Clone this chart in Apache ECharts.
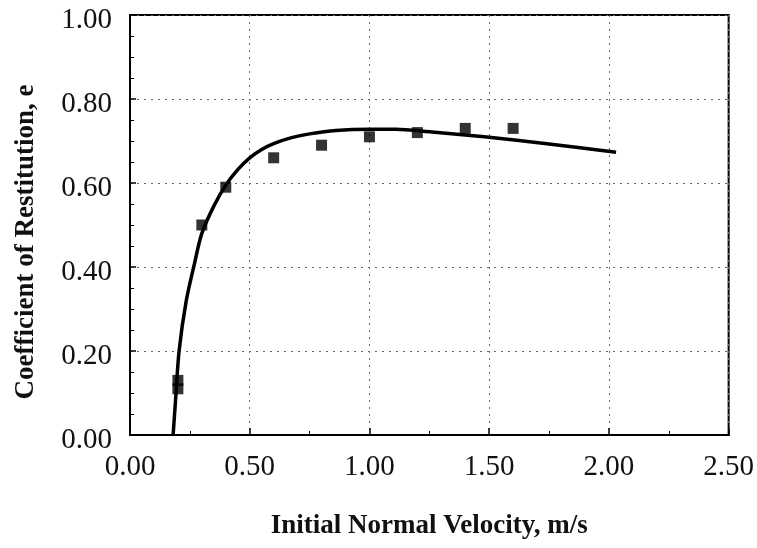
<!DOCTYPE html>
<html>
<head>
<meta charset="utf-8">
<script src="https://cdn.jsdelivr.net/npm/echarts@6/dist/echarts.min.js"></script>
<style>html,body{margin:0;padding:0;background:#fff}#c{width:757px;height:548px}</style>
</head>
<body>
<div id="c"></div>
<script>
// Measured points (initial normal velocity, m/s ; coefficient of restitution)
const pointX = [0.20, 0.20, 0.30, 0.40, 0.60, 0.80, 1.00, 1.20, 1.40, 1.60];
const pointE = [0.13, 0.11, 0.50, 0.59, 0.66, 0.69, 0.71, 0.72, 0.73, 0.73];
// Fitted curve
const curveX = [0.18, 0.19, 0.205, 0.235, 0.27, 0.30, 0.35, 0.40, 0.45, 0.50, 0.55, 0.60, 0.675, 0.75, 0.86, 1.00, 1.11, 1.25, 1.48, 1.75, 2.03];
const curveE = [0.00, 0.08, 0.20, 0.32, 0.41, 0.48, 0.545, 0.595, 0.632, 0.660, 0.680, 0.694, 0.708, 0.717, 0.725, 0.728, 0.728, 0.722, 0.71, 0.693, 0.673];
// Axis ticks
const xTicks = [0.00, 0.50, 1.00, 1.50, 2.00, 2.50];
const yTicks = [0.00, 0.20, 0.40, 0.60, 0.80, 1.00];
const xTitle = 'Initial Normal Velocity, m/s';
const yTitle = 'Coefficient of Restitution, e';

const font = '"Liberation Serif","Times New Roman",serif';
const chart = echarts.init(document.getElementById('c'));
chart.setOption({
  animation: false,
  backgroundColor: '#fff',
  grid: { left: 130, right: 27, top: 15, bottom: 113, show: true, borderColor: '#000', borderWidth: 2, backgroundColor: 'transparent' },
  graphic: [{
    type: 'text', x: 26, y: 242, rotation: Math.PI / 2,
    style: { text: yTitle, fontFamily: font, fontWeight: 'bold', fontSize: 27, fill: '#111', align: 'center', verticalAlign: 'middle' }
  }],
  xAxis: {
    type: 'value', min: xTicks[0], max: xTicks[xTicks.length - 1], interval: 0.5,
    name: xTitle, nameLocation: 'middle', nameGap: 78,
    nameTextStyle: { fontFamily: font, fontWeight: 'bold', fontSize: 27, color: '#111' },
    axisLine: { show: true, lineStyle: { color: '#000', width: 2 } },
    axisTick: { show: true, inside: true, length: 7, lineStyle: { color: '#000', width: 1.5 } },
    minorTick: { show: true, splitNumber: 2, length: 4, lineStyle: { color: '#000' } },
    axisLabel: { fontFamily: font, fontSize: 29, color: '#111', margin: 18, formatter: v => v.toFixed(2) },
    splitLine: { show: true, lineStyle: { color: '#666', width: 1, type: [2, 5] } }
  },
  yAxis: {
    type: 'value', min: yTicks[0], max: yTicks[yTicks.length - 1], interval: 0.2,
    axisLine: { show: true, lineStyle: { color: '#000', width: 2 } },
    axisTick: { show: true, inside: true, length: 6, lineStyle: { color: '#000', width: 1.5 } },
    minorTick: { show: true, splitNumber: 4, length: 4, lineStyle: { color: '#000' } },
    axisLabel: {
      margin: 18, formatter: v => '{t|' + v.toFixed(2) + '}',
      rich: { t: { fontFamily: font, fontSize: 29, color: '#111', padding: [10, 0, 0, 0] } }
    },
    splitLine: { show: true, lineStyle: { color: '#666', width: 1, type: [2, 5] } }
  },
  series: [
    {
      type: 'line', data: curveX.map((x, i) => [x, curveE[i]]),
      smooth: 0.3, showSymbol: false, lineStyle: { color: '#000', width: 3.5 }, z: 3
    },
    {
      type: 'scatter', data: pointX.map((x, i) => [x, pointE[i]]),
      symbol: 'rect', symbolSize: 11, itemStyle: { color: '#000' }, z: 4
    }
  ]
});
</script>
</body>
</html>
